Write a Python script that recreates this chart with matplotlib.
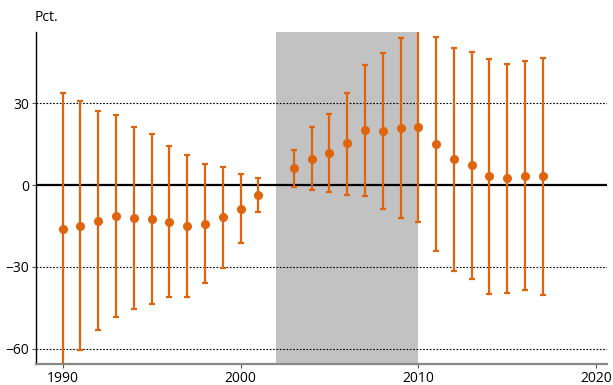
import matplotlib
matplotlib.use("Agg")
import matplotlib.pyplot as plt
import numpy as np

years = [1990, 1991, 1992, 1993, 1994, 1995, 1996, 1997, 1998, 1999, 2000, 2001,
         2003, 2004, 2005, 2006, 2007, 2008, 2009, 2010, 2011, 2012, 2013, 2014,
         2015, 2016, 2017]
central = [-16.0, -15.0, -13.1, -11.2, -12.2, -12.4, -13.4, -15.1, -14.2, -11.8, -8.7, -3.8,
           6.1, 9.6, 11.6, 15.2, 20.0, 19.8, 20.9, 21.3, 15.0, 9.4, 7.2, 3.2,
           2.4, 3.3, 3.2]
upper = [33.8, 30.7, 27.2, 25.6, 21.2, 18.5, 14.1, 10.9, 7.8, 6.7, 4.1, 2.6,
         12.8, 21.3, 26.0, 33.8, 44.0, 48.4, 53.9, 57.5, 54.2, 50.1, 48.8, 46.0,
         44.4, 45.4, 46.5]
lower = [-68.0, -60.5, -53.1, -48.2, -45.4, -43.4, -41.0, -41.1, -35.9, -30.4, -21.3, -10.0,
         -0.6, -1.8, -2.7, -3.5, -4.1, -8.9, -12.2, -13.5, -24.0, -31.3, -34.4, -39.9,
         -39.5, -38.5, -40.2]
shade_start, shade_end = 2002, 2010
yticks = [-60, -30, 0, 30]
xticks = [1990, 2000, 2010, 2020]

orange = "#E0640C"

plt.rcParams['font.family'] = ['Open Sans', 'DejaVu Sans']
fig = plt.figure(figsize=(6.13, 3.85), dpi=100)
ax = fig.add_axes([0.0587, 0.0545, 0.9313, 0.8625])

ax.axvspan(shade_start, shade_end, color="#C2C2C2", lw=0, zorder=0)
for yv in [-60, -30, 30]:
    ax.axhline(yv, color="black", lw=0.8, ls=(0, (1.5, 1.5)), zorder=1)
ax.axhline(0, color="black", lw=1.6, zorder=2)

c = np.array(central)
yerr = np.vstack([c - np.array(lower), np.array(upper) - c])
ax.errorbar(years, central, yerr=yerr, fmt="o", color=orange, ecolor=orange,
            markersize=5.5, elinewidth=1.6, capsize=2, capthick=1.6, zorder=3)

ax.set_xlim(1988.5, 2020.6)
ax.set_ylim(-65.5, 56)
ax.set_xticks(xticks)
ax.set_yticks(yticks)
ax.tick_params(axis="both", labelsize=10, length=3, width=0.8, color="#555555", pad=2)
for s in ["top", "right"]:
    ax.spines[s].set_visible(False)
ax.spines["left"].set_color("black")
ax.spines["left"].set_linewidth(1.0)
ax.spines["bottom"].set_color("#888888")
ax.spines["bottom"].set_linewidth(1.6)

fig.text(0.057, 0.955, "Pct.", fontsize=10, ha="left", va="center")

fig.savefig("out.png", dpi=100)
